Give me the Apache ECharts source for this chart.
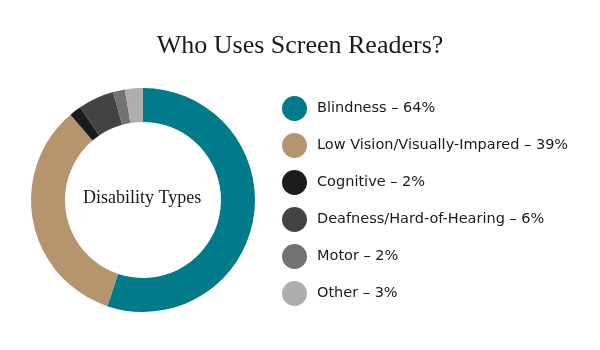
<!DOCTYPE html>
<html>
<head>
<meta charset="utf-8">
<script src="https://cdn.jsdelivr.net/npm/echarts@6/dist/echarts.min.js"></script>
<style>html,body{margin:0;padding:0;background:#fff}#c{width:600px;height:350px}</style>
</head>
<body>
<div id="c"></div>
<script>
var categories = ['Blindness', 'Low Vision/Visually-Impared', 'Cognitive', 'Deafness/Hard-of-Hearing', 'Motor', 'Other'];
var values = [64, 39, 2, 6, 2, 3];
var colors = ['#017A89', '#B5946E', '#1C1C1C', '#454341', '#747171', '#B0AEAD'];

var chart = echarts.init(document.getElementById('c'), null, {renderer: 'canvas'});
var data = categories.map(function (c, i) { return {name: c, value: values[i], itemStyle: {color: colors[i]}}; });
chart.setOption({
  animation: false,
  title: [{
    text: 'Who Uses Screen Readers?',
    left: 'center',
    top: 28,
    textStyle: {fontFamily: 'Liberation Serif', fontWeight: 'normal', fontSize: 26, color: '#1a1a1a'}
  }],
  graphic: [{
    type: 'text',
    left: 83, top: 189,
    style: {text: 'Disability Types', font: '18px "Liberation Serif"', fill: '#1a1a1a'}
  }],
  legend: {
    orient: 'vertical',
    left: 277,
    top: 91,
    icon: 'circle',
    itemWidth: 25,
    itemHeight: 25,
    itemGap: 12,
    data: categories,
    formatter: function (name) {
      var i = categories.indexOf(name);
      return name + ' \u2013 ' + values[i] + '%';
    },
    textStyle: {fontFamily: 'DejaVu Sans', fontSize: 14.5, color: '#1a1a1a', padding: [0, 0, 0, 5]},
    selectedMode: false
  },
  series: [{
    type: 'pie',
    center: [143, 200],
    radius: [78, 112],
    startAngle: 90,
    clockwise: true,
    label: {show: false},
    labelLine: {show: false},
    emphasis: {disabled: true},
    data: data
  }]
});
</script>
</body>
</html>
